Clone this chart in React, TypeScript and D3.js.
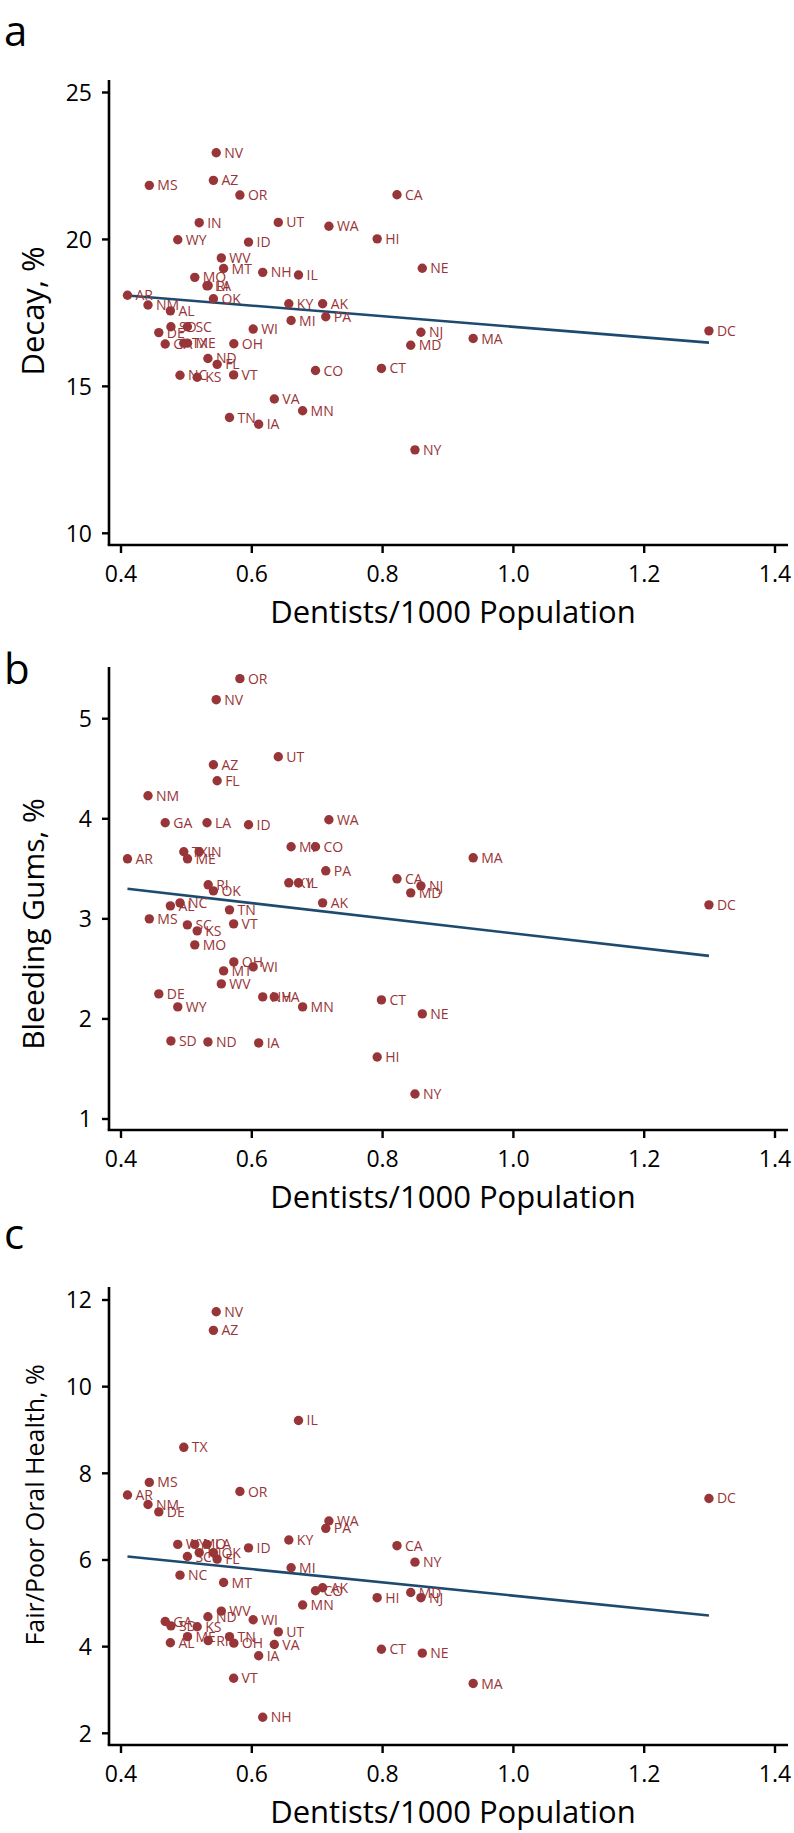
import React from "react";
import * as d3 from "d3";

const states = ["AL","AK","AZ","AR","CA","CO","CT","DE","DC","FL","GA","HI","ID","IL","IN","IA","KS","KY","LA","ME","MD","MA","MI","MN","MS","MO","MT","NE","NV","NH","NJ","NM","NY","NC","ND","OH","OK","OR","PA","RI","SC","SD","TN","TX","UT","VT","VA","WA","WV","WI","WY"];

const dentists = [0.4755,0.7083,0.5413,0.4099,0.822,0.6974,0.7982,0.4578,1.299,0.547,0.4676,0.7917,0.595,0.6714,0.5196,0.6105,0.5165,0.6566,0.5315,0.5017,0.843,0.9385,0.6601,0.6777,0.4433,0.5128,0.5569,0.8607,0.5456,0.6167,0.8586,0.4413,0.8495,0.4902,0.5329,0.5725,0.5413,0.5818,0.7131,0.5333,0.5015,0.4763,0.5659,0.496,0.6405,0.5722,0.6344,0.7179,0.5534,0.6021,0.4868];

const decay = [17.57,17.81,22.01,18.10,21.52,15.54,15.61,16.83,16.89,15.75,16.44,20.02,19.91,18.79,20.57,13.71,15.31,17.81,18.42,16.47,16.40,16.63,17.24,14.17,21.84,18.71,19.01,19.02,22.95,18.88,16.84,17.77,12.84,15.38,15.95,16.45,17.98,21.51,17.37,18.43,17.03,17.03,13.94,16.47,20.58,15.39,14.57,20.45,19.37,16.95,19.99];

const bleeding = [3.13,3.16,4.54,3.60,3.40,3.72,2.19,2.25,3.14,4.38,3.96,1.62,3.94,3.36,3.67,1.76,2.88,3.36,3.96,3.60,3.26,3.61,3.72,2.12,3.00,2.74,2.48,2.05,5.19,2.22,3.33,4.23,1.25,3.16,1.77,2.57,3.28,5.40,3.48,3.34,2.94,1.78,3.09,3.67,4.62,2.95,2.22,3.99,2.35,2.52,2.12];

const fairPoor = [4.09,5.36,11.30,7.50,6.33,5.29,3.94,7.11,7.42,6.02,4.58,5.13,6.28,9.22,6.17,3.79,4.46,6.46,6.36,4.23,5.25,3.15,5.82,4.96,7.79,6.36,5.48,3.85,11.73,2.37,5.13,7.28,5.95,5.65,4.69,4.08,6.17,7.58,6.73,4.14,6.08,4.48,4.23,8.60,4.34,3.27,4.05,6.90,4.82,4.62,6.36];

const trendX = [0.4099, 1.299];
const decayTrend = [18.09, 16.49];
const bleedingTrend = [3.30, 2.63];
const fairPoorTrend = [6.08, 4.72];

const xTicks = [0.4, 0.6, 0.8, 1.0, 1.2, 1.4];
const decayTicks = [10, 15, 20, 25];
const bleedingTicks = [1, 2, 3, 4, 5];
const fairPoorTicks = [2, 4, 6, 8, 10, 12];

const xTitle = "Dentists/1000 Population";

const DOT = "#983538";
const LINE = "#1d4a6e";
const FONT = "'Open Sans', sans-serif";

type PanelProps = {
  letter: string;
  letterY: number;
  values: number[];
  trend: number[];
  ticks: number[];
  domain: [number, number];
  yRange: [number, number];
  axisTop: number;
  axisBottom: number;
  yTitle: string;
  yTitleY: number;
  yTitleSize: number;
};

function Panel(p: PanelProps) {
  const x = d3.scaleLinear().domain([0.4, 1.4]).range([121, 775]);
  const y = d3.scaleLinear().domain(p.domain).range(p.yRange);
  const axisX = 109;
  const axisRight = 788;
  const line = d3.line<number>().x((d, i) => x(trendX[i])).y((d) => y(d));
  return (
    <g>
      <text x={4} y={p.letterY} fontSize={42} fontFamily={FONT} fill="#000">{p.letter}</text>
      <line x1={axisX} x2={axisX} y1={p.axisTop} y2={p.axisBottom} stroke="#000" strokeWidth={2.6} />
      <line x1={axisX - 1.3} x2={axisRight} y1={p.axisBottom} y2={p.axisBottom} stroke="#000" strokeWidth={2.6} />
      {p.ticks.map((t) => (
        <g key={"y" + t}>
          <line x1={axisX - 7} x2={axisX} y1={y(t)} y2={y(t)} stroke="#000" strokeWidth={2.4} />
          <text x={axisX - 17} y={y(t)} dy="0.36em" textAnchor="end" fontSize={23} fontFamily={FONT} fill="#000">{t}</text>
        </g>
      ))}
      {xTicks.map((t) => (
        <g key={"x" + t}>
          <line x1={x(t)} x2={x(t)} y1={p.axisBottom} y2={p.axisBottom + 8} stroke="#000" strokeWidth={2.4} />
          <text x={x(t)} y={p.axisBottom + 37} textAnchor="middle" fontSize={23} fontFamily={FONT} fill="#000">{t.toFixed(1)}</text>
        </g>
      ))}
      <text x={453} y={p.axisBottom + 78} textAnchor="middle" fontSize={31} fontFamily={FONT} fill="#000">{xTitle}</text>
      <text transform={`translate(44,${p.yTitleY}) rotate(-90)`} textAnchor="middle" fontSize={p.yTitleSize} fontFamily={FONT} fill="#000">{p.yTitle}</text>
      <path d={line(p.trend) || ""} fill="none" stroke={LINE} strokeWidth={2.6} />
      {states.map((s, i) => (
        <g key={s}>
          <circle cx={x(dentists[i])} cy={y(p.values[i])} r={4.7} fill={DOT} />
          <text x={x(dentists[i]) + 8} y={y(p.values[i])} dy="0.36em" fontSize={14} fontFamily={FONT} fill={DOT}>{s}</text>
        </g>
      ))}
    </g>
  );
}

export default function App() {
  return (
    <svg width={794} height={1833} style={{ position: "absolute", left: 0, top: 0, background: "#fff" }}>
      <rect width={794} height={1833} fill="#fff" />
      <Panel letter="a" letterY={46} values={decay} trend={decayTrend} ticks={decayTicks} domain={[10, 25]} yRange={[533.3, 92.5]} axisTop={80} axisBottom={545} yTitle="Decay, %" yTitleY={311} yTitleSize={31} />
      <Panel letter="b" letterY={684} values={bleeding} trend={bleedingTrend} ticks={bleedingTicks} domain={[1, 5]} yRange={[1119, 718.7]} axisTop={667} axisBottom={1130} yTitle="Bleeding Gums, %" yTitleY={924} yTitleSize={30} />
      <Panel letter="c" letterY={1249} values={fairPoor} trend={fairPoorTrend} ticks={fairPoorTicks} domain={[2, 12]} yRange={[1733.3, 1300]} axisTop={1287} axisBottom={1745} yTitle="Fair/Poor Oral Health, %" yTitleY={1505} yTitleSize={25} />
    </svg>
  );
}
